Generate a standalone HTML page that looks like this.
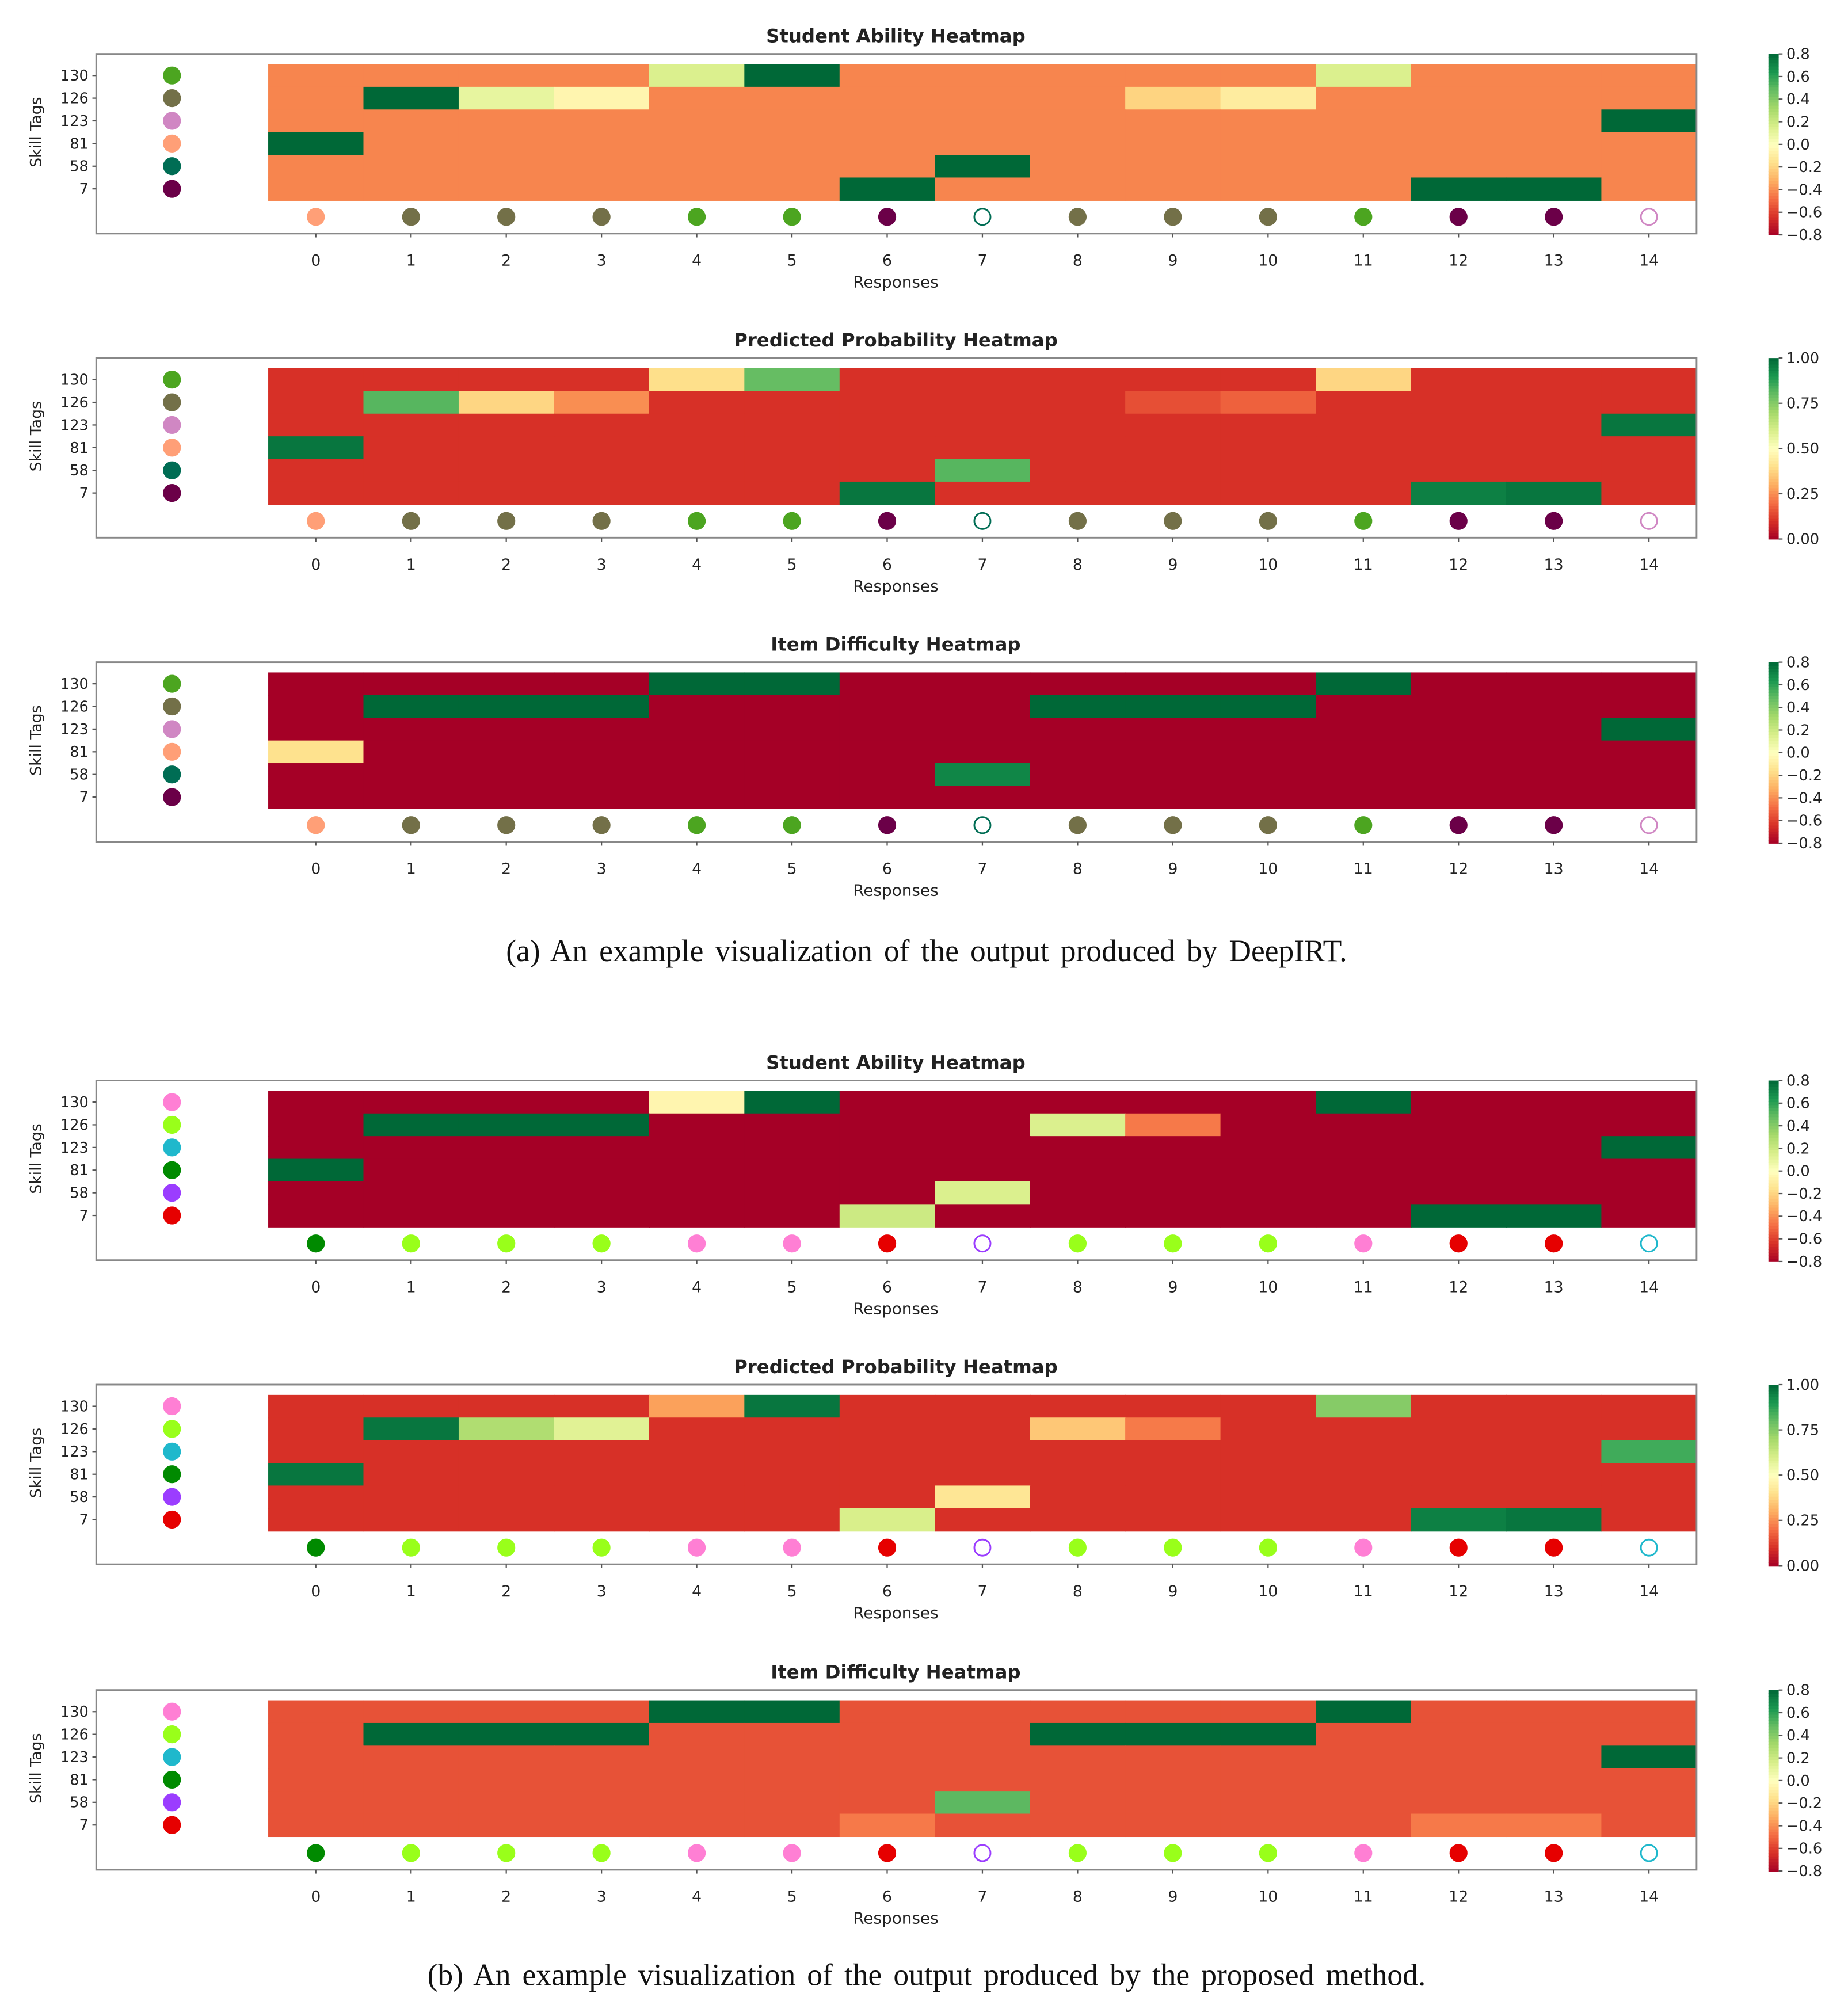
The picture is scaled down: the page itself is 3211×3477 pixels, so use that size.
<!DOCTYPE html>
<html><head><meta charset="utf-8"><style>
html,body{margin:0;padding:0;background:#fff}
svg{display:block}
text{font-family:"DejaVu Sans","Liberation Sans",sans-serif;fill:#222}
.cap{font-family:"Liberation Serif",serif;fill:#111}
</style></head><body>
<svg id="fig" xmlns="http://www.w3.org/2000/svg" width="3211" height="3477" viewBox="0 0 1440 1559.3" preserveAspectRatio="none">
<text class="cap" x="722" y="749" font-size="24" text-anchor="middle" word-spacing="3">(a) An example visualization of the output produced by DeepIRT.</text>
<text class="cap" x="722" y="1547" font-size="24" text-anchor="middle" word-spacing="3">(b) An example visualization of the output produced by the proposed method.</text>
</svg>
<script>
const skillTags = ["130","126","123","81","58","7"];
const responses = [0,1,2,3,4,5,6,7,8,9,10,11,12,13,14];
const ticksAbility = [-0.8,-0.6,-0.4,-0.2,0.0,0.2,0.4,0.6,0.8];
const ticksProb = [0,0.25,0.5,0.75,1.0];
const titles = ["Student Ability Heatmap","Predicted Probability Heatmap","Item Difficulty Heatmap","Student Ability Heatmap","Predicted Probability Heatmap","Item Difficulty Heatmap"];
const B1=-0.42, P=0.1, D=-0.8, D6=-0.55;
const heat1 = [
[B1,B1,B1,B1,0.15,0.8,B1,B1,B1,B1,B1,0.15,B1,B1,B1],
[B1,0.8,0.1,-0.05,B1,B1,B1,B1,B1,-0.2,-0.1,B1,B1,B1,B1],
[B1,B1,B1,B1,B1,B1,B1,B1,B1,B1,B1,B1,B1,B1,0.8],
[0.8,B1,B1,B1,B1,B1,B1,B1,B1,B1,B1,B1,B1,B1,B1],
[B1,B1,B1,B1,B1,B1,B1,0.8,B1,B1,B1,B1,B1,B1,B1],
[B1,B1,B1,B1,B1,B1,0.8,B1,B1,B1,B1,B1,0.8,0.8,B1]];
const heat2 = [
[P,P,P,P,0.4,0.8,P,P,P,P,P,0.38,P,P,P],
[P,0.82,0.38,0.25,P,P,P,P,P,0.15,0.18,P,P,P,P],
[P,P,P,P,P,P,P,P,P,P,P,P,P,P,0.97],
[0.97,P,P,P,P,P,P,P,P,P,P,P,P,P,P],
[P,P,P,P,P,P,P,0.82,P,P,P,P,P,P,P],
[P,P,P,P,P,P,0.97,P,P,P,P,P,0.95,0.97,P]];
const heat3 = [
[D,D,D,D,0.8,0.8,D,D,D,D,D,0.8,D,D,D],
[D,0.8,0.8,0.8,D,D,D,D,0.8,0.8,0.8,D,D,D,D],
[D,D,D,D,D,D,D,D,D,D,D,D,D,D,0.8],
[-0.15,D,D,D,D,D,D,D,D,D,D,D,D,D,D],
[D,D,D,D,D,D,D,0.7,D,D,D,D,D,D,D],
[D,D,D,D,D,D,D,D,D,D,D,D,D,D,D]];
const heat4 = [
[D,D,D,D,-0.05,0.8,D,D,D,D,D,0.8,D,D,D],
[D,0.8,0.8,0.8,D,D,D,D,0.15,-0.45,D,D,D,D,D],
[D,D,D,D,D,D,D,D,D,D,D,D,D,D,0.8],
[0.8,D,D,D,D,D,D,D,D,D,D,D,D,D,D],
[D,D,D,D,D,D,D,0.15,D,D,D,D,D,D,D],
[D,D,D,D,D,D,0.2,D,D,D,D,D,0.8,0.8,D]];
const heat5 = [
[P,P,P,P,0.28,0.97,P,P,P,P,P,0.75,P,P,P],
[P,0.97,0.68,0.58,P,P,P,P,0.35,0.22,P,P,P,P,P],
[P,P,P,P,P,P,P,P,P,P,P,P,P,P,0.85],
[0.97,P,P,P,P,P,P,P,P,P,P,P,P,P,P],
[P,P,P,P,P,P,P,0.42,P,P,P,P,P,P,P],
[P,P,P,P,P,P,0.6,P,P,P,P,P,0.95,0.97,P]];
const heat6 = [
[D6,D6,D6,D6,0.8,0.8,D6,D6,D6,D6,D6,0.8,D6,D6,D6],
[D6,0.8,0.8,0.8,D6,D6,D6,D6,0.8,0.8,0.8,D6,D6,D6,D6],
[D6,D6,D6,D6,D6,D6,D6,D6,D6,D6,D6,D6,D6,D6,0.8],
[D6,D6,D6,D6,D6,D6,D6,D6,D6,D6,D6,D6,D6,D6,D6],
[D6,D6,D6,D6,D6,D6,D6,0.5,D6,D6,D6,D6,D6,D6,D6],
[D6,D6,D6,D6,D6,D6,-0.45,D6,D6,D6,D6,D6,-0.45,-0.45,D6]];
const skillColorsA = ["#4ca520","#737048","#d087c3","#ff9f77","#006d54","#6b0048"];
const skillColorsB = ["#ff7fd4","#99ff1a","#1fb8cc","#008a00","#9b3dff","#e60000"];
const respSkillA = [3,1,1,1,0,0,5,4,1,1,1,0,5,5,2];
const respSkillB = [3,1,1,1,0,0,5,4,1,1,1,0,5,5,2];
const correctA = [1,1,1,1,1,1,1,0,1,1,1,1,1,1,0];
const correctB = [1,1,1,1,1,1,1,0,1,1,1,1,1,1,0];

const stops=["#a50026","#d73027","#f46d43","#fdae61","#fee08b","#ffffbf","#d9ef8b","#a6d96a","#66bd63","#1a9850","#006837"];
function hex(h){return [1,3,5].map(i=>parseInt(h.substr(i,2),16));}
function cmap(t){t=Math.max(0,Math.min(1,t));const f=t*10,i=Math.min(9,Math.floor(f)),r=f-i;const a=hex(stops[i]),b=hex(stops[i+1]);return "rgb("+a.map((v,k)=>Math.round(v+(b[k]-v)*r)).join(",")+")";}
const svg=document.getElementById('fig');const NS="http://www.w3.org/2000/svg";
function el(tag,attrs,txt){const e=document.createElementNS(NS,tag);for(const k in attrs)e.setAttribute(k,attrs[k]);if(txt!==undefined)e.textContent=txt;svg.appendChild(e);return e;}
const panels=[
{top:29,data:heat1,ab:true,c:skillColorsA,rs:respSkillA,cor:correctA},
{top:266,data:heat2,ab:false,c:skillColorsA,rs:respSkillA,cor:correctA},
{top:503,data:heat3,ab:true,c:skillColorsA,rs:respSkillA,cor:correctA},
{top:829,data:heat4,ab:true,c:skillColorsB,rs:respSkillB,cor:correctB},
{top:1066,data:heat5,ab:false,c:skillColorsB,rs:respSkillB,cor:correctB},
{top:1304,data:heat6,ab:true,c:skillColorsB,rs:respSkillB,cor:correctB}];
const hx0=209,hx1=1322,cw=(hx1-hx0)/responses.length;
function xS(i){return hx0+cw*i;}
panels.forEach((p,pi)=>{
 const t=p.top, axT=t+13, axB=t+153, hT=t+21, hB=t+127, rh=(hB-hT)/skillTags.length;
 const yS=r=>hT+rh*r;
 const vmin=p.ab?-0.8:0, vmax=p.ab?0.8:1;
 const norm=v=>(v-vmin)/(vmax-vmin);
 let e=el('text',{x:698,y:t+4,'font-size':14.5,'font-weight':'bold','text-anchor':'middle'},titles[pi]);
 
 
 p.data.forEach((row,r)=>row.forEach((v,c)=>{
  const cell=el('rect',{x:xS(c),y:yS(r),width:cw+0.5,height:rh+0.5,fill:cmap(norm(v))});
  
  
 }));
 e=el('rect',{x:75,y:axT,width:1247,height:axB-axT,fill:'none',stroke:'#888','stroke-width':1.3});
 
 
 skillTags.forEach((s,r)=>{
  const cy=yS(r)+rh/2;
  el('line',{x1:72,x2:75,y1:cy,y2:cy,stroke:'#555'});
  const tl=el('text',{x:69,y:cy+4,'font-size':11.5,'text-anchor':'end'},s);
  
  
  const d=el('circle',{cx:134,cy:cy,r:7,fill:p.c[r]});
  
  
 });
 const yl=el('text',{x:0,y:0,'font-size':12,'text-anchor':'middle',transform:`translate(32,${(hT+hB)/2}) rotate(-90)`},'Skill Tags');
 
 
 responses.forEach((rv,i)=>{
  const cx=xS(i)+cw/2, dy=t+140;
  const col=p.c[p.rs[i]];
  const d=el('circle',p.cor[i]?{cx:cx,cy:dy,r:7,fill:col}:{cx:cx,cy:dy,r:6.3,fill:'none',stroke:col,'stroke-width':1.3});
  
  
  el('line',{x1:cx,x2:cx,y1:axB,y2:axB+3,stroke:'#555'});
  const tl=el('text',{x:cx,y:t+178,'font-size':12,'text-anchor':'middle'},String(rv));
  
  
 });
 const xl=el('text',{x:698,y:t+195,'font-size':12.5,'text-anchor':'middle'},'Responses');
 
 
 const cbT=axT, cbB=axB+1, cbX=1378, cbW=8, n=60;
 for(let k=0;k<n;k++){
  const seg=el('rect',{x:cbX,y:cbB-(k+1)*(cbB-cbT)/n,width:cbW,height:(cbB-cbT)/n+0.4,fill:cmap((k+0.5)/n)});
  
  
 }
 const ticks=p.ab?ticksAbility:ticksProb;
 ticks.forEach(v=>{
  const y=cbB-norm(v)*(cbB-cbT);
  el('line',{x1:cbX+cbW,x2:cbX+cbW+3,y1:y,y2:y,stroke:'#555'});
  const lab=p.ab?(v<0?'\u2212':'')+Math.abs(v).toFixed(1):v.toFixed(2);
  const tl=el('text',{x:cbX+14,y:y+4,'font-size':11.5},lab);
  
  
 });
});
</script>
</body></html>
